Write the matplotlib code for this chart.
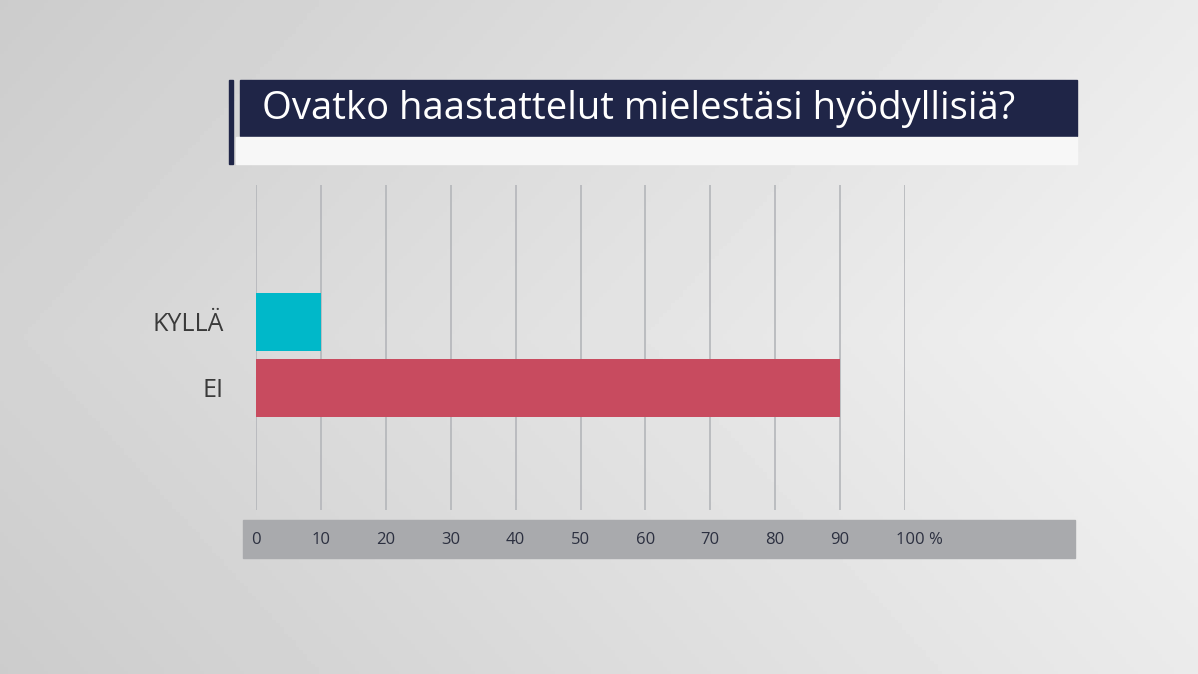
import numpy as np
import matplotlib.pyplot as plt
from matplotlib.patches import Rectangle

title = "Ovatko haastattelut mielestäsi hyödyllisiä?"
categories = ["KYLLÄ", "EI"]
values = [10, 90]
bar_colors = ["#00b8c9", "#c84b5f"]
ticks = [0, 10, 20, 30, 40, 50, 60, 70, 80, 90, 100]
tick_labels = ["0", "10", "20", "30", "40", "50", "60", "70", "80", "90", "100 %"]

W, H = 1198, 674
fig = plt.figure(figsize=(W / 100, H / 100), dpi=100)

# background gradient
bg = fig.add_axes([0, 0, 1, 1])
xx, yy = np.meshgrid(np.linspace(0, 1, 300), np.linspace(0, 1, 200))
shade = 0.80 + 0.12 * xx + 0.03 * (1 - np.abs(yy - 0.5) * 2)
bg.imshow(shade, cmap="gray", vmin=0, vmax=1, extent=[0, W, H, 0], aspect="auto")
bg.set_xlim(0, W)
bg.set_ylim(H, 0)
bg.axis("off")

# title box
bg.add_patch(Rectangle((229, 80), 4, 84, color="#1f2547"))
bg.add_patch(Rectangle((240, 80), 837, 56, color="#1f2547"))
bg.add_patch(Rectangle((236, 137), 841, 27, color="#f7f7f7"))
bg.text(262, 109, title, color="white", fontsize=27.5, va="center", ha="left",
        family="Open Sans", fontweight="medium")

# axis band
bg.add_patch(Rectangle((243, 520), 832, 38, color="#a9aaad"))

# chart axes: x 0 -> px 256, 100 -> px 905; y from 185 to 510
x0, x1 = 256, 905
ax = fig.add_axes([x0 / W, 1 - 510 / H, (x1 - x0) / W, (510 - 185) / H])
ax.set_xlim(0, 100)
ax.set_ylim(3.3, -0.9)
ax.patch.set_alpha(0)
for s in ax.spines.values():
    s.set_visible(False)
for t in ticks:
    ax.axvline(t, color="#b4b6ba", lw=1.2, zorder=0)
ypos = [0.87, 1.72]
ax.barh(ypos, values, height=0.75, color=bar_colors, zorder=2)
ax.set_xticks([])
ax.set_yticks(ypos)
ax.set_yticklabels(categories, fontsize=18, color="#3a3a3a", family="Open Sans")
ax.tick_params(axis="y", length=0, pad=36 - 13)

for t, lab in zip(ticks, tick_labels):
    px = x0 + t * (x1 - x0) / 100
    if t == 100:
        bg.text(px - 9, 540, lab, ha="left", va="center", fontsize=12,
                color="#2c3040", family="Open Sans")
    else:
        bg.text(px, 540, lab, ha="center", va="center", fontsize=12,
                color="#2c3040", family="Open Sans")

fig.savefig("out.png", dpi=100)
